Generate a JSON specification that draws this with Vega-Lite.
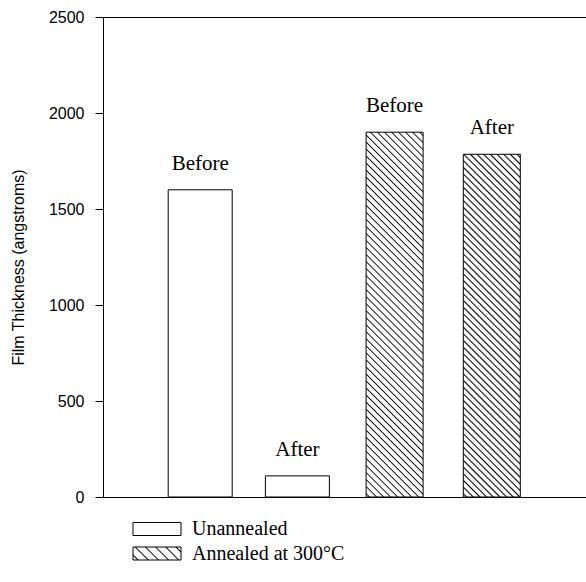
{
  "$schema": "https://vega.github.io/schema/vega-lite/v6.json",
  "width": 486,
  "height": 480,
  "autosize": {"type": "none"},
  "padding": {"left": 103, "top": 17, "right": 0, "bottom": 85},
  "background": "white",
  "config": {"view": {"stroke": null}},
  "data": {
    "values": [
      {"bar": "U-Before", "treatment": "Unannealed", "stage": "Before", "thickness": 1600},
      {"bar": "U-After", "treatment": "Unannealed", "stage": "After", "thickness": 110},
      {"bar": "A-Before", "treatment": "Annealed at 300°C", "stage": "Before", "thickness": 1900},
      {"bar": "A-After", "treatment": "Annealed at 300°C", "stage": "After", "thickness": 1785}
    ]
  },
  "encoding": {
    "y": {
      "field": "thickness",
      "type": "quantitative",
      "scale": {"domain": [0, 2500], "nice": false},
      "axis": {
        "title": "Film Thickness (angstroms)",
        "values": [0, 500, 1000, 1500, 2000, 2500],
        "format": "d",
        "grid": false,
        "tickSize": 8,
        "tickColor": "black",
        "domainColor": "black",
        "labelFont": "Liberation Sans",
        "labelFontSize": 16,
        "labelColor": "black",
        "labelPadding": 11,
        "titleFont": "Liberation Sans",
        "titleFontSize": 16,
        "titleFontWeight": "normal",
        "titleColor": "black",
        "titleX": -85,
        "titleY": 250,
        "titleAngle": -90,
        "titleBaseline": "middle",
        "titleAlign": "center"
      }
    }
  },
  "layer": [
    {
      "transform": [{"filter": "datum.treatment === 'Unannealed'"}],
      "mark": {"type": "bar", "width": 64, "fill": "white", "stroke": "black", "strokeWidth": 1},
      "encoding": {
        "x": {
          "field": "bar", "type": "nominal",
          "sort": ["U-Before", "U-After", "A-Before", "A-After"],
          "scale": {"paddingOuter": 0.5, "paddingInner": 0},
          "axis": {"orient": "bottom", "title": null, "labels": false, "ticks": false, "domainColor": "black"}
        },
        "stroke": {
          "datum": "Unannealed",
          "type": "nominal",
          "scale": {"range": ["black"]},
          "legend": {
            "orient": "none",
            "legendX": 44,
            "legendY": 502,
            "padding": 0,
            "title": null,
            "symbolType": "M-4,-1.0833H4V1.0833H-4Z",
            "symbolSize": 144,
            "symbolStrokeWidth": 1,
            "labelFont": "Liberation Serif",
            "labelFontSize": 20,
            "labelColor": "black",
            "labelOffset": 25
          }
        }
      }
    },
    {
      "transform": [{"filter": "datum.bar === 'A-Before'"}],
      "mark": {
        "type": "bar", "width": 57, "stroke": "black", "strokeWidth": 1,
        "fill": {
          "gradient": "linear", "x1": 0, "y1": 1, "x2": 0.17636, "y2": -0.12872,
          "stops": [
            {"offset": 0.00533, "color": "#ffffff"}, {"offset": 0.00833, "color": "#000000"}, {"offset": 0.01133, "color": "#ffffff"}, {"offset": 0.022, "color": "#ffffff"}, {"offset": 0.025, "color": "#000000"}, {"offset": 0.028, "color": "#ffffff"}, {"offset": 0.03867, "color": "#ffffff"}, {"offset": 0.04167, "color": "#000000"}, {"offset": 0.04467, "color": "#ffffff"},
            {"offset": 0.05533, "color": "#ffffff"}, {"offset": 0.05833, "color": "#000000"}, {"offset": 0.06133, "color": "#ffffff"}, {"offset": 0.072, "color": "#ffffff"}, {"offset": 0.075, "color": "#000000"}, {"offset": 0.078, "color": "#ffffff"}, {"offset": 0.08867, "color": "#ffffff"}, {"offset": 0.09167, "color": "#000000"}, {"offset": 0.09467, "color": "#ffffff"},
            {"offset": 0.10533, "color": "#ffffff"}, {"offset": 0.10833, "color": "#000000"}, {"offset": 0.11133, "color": "#ffffff"}, {"offset": 0.122, "color": "#ffffff"}, {"offset": 0.125, "color": "#000000"}, {"offset": 0.128, "color": "#ffffff"}, {"offset": 0.13867, "color": "#ffffff"}, {"offset": 0.14167, "color": "#000000"}, {"offset": 0.14467, "color": "#ffffff"},
            {"offset": 0.15533, "color": "#ffffff"}, {"offset": 0.15833, "color": "#000000"}, {"offset": 0.16133, "color": "#ffffff"}, {"offset": 0.172, "color": "#ffffff"}, {"offset": 0.175, "color": "#000000"}, {"offset": 0.178, "color": "#ffffff"}, {"offset": 0.18867, "color": "#ffffff"}, {"offset": 0.19167, "color": "#000000"}, {"offset": 0.19467, "color": "#ffffff"},
            {"offset": 0.20533, "color": "#ffffff"}, {"offset": 0.20833, "color": "#000000"}, {"offset": 0.21133, "color": "#ffffff"}, {"offset": 0.222, "color": "#ffffff"}, {"offset": 0.225, "color": "#000000"}, {"offset": 0.228, "color": "#ffffff"}, {"offset": 0.23867, "color": "#ffffff"}, {"offset": 0.24167, "color": "#000000"}, {"offset": 0.24467, "color": "#ffffff"},
            {"offset": 0.25533, "color": "#ffffff"}, {"offset": 0.25833, "color": "#000000"}, {"offset": 0.26133, "color": "#ffffff"}, {"offset": 0.272, "color": "#ffffff"}, {"offset": 0.275, "color": "#000000"}, {"offset": 0.278, "color": "#ffffff"}, {"offset": 0.28867, "color": "#ffffff"}, {"offset": 0.29167, "color": "#000000"}, {"offset": 0.29467, "color": "#ffffff"},
            {"offset": 0.30533, "color": "#ffffff"}, {"offset": 0.30833, "color": "#000000"}, {"offset": 0.31133, "color": "#ffffff"}, {"offset": 0.322, "color": "#ffffff"}, {"offset": 0.325, "color": "#000000"}, {"offset": 0.328, "color": "#ffffff"}, {"offset": 0.33867, "color": "#ffffff"}, {"offset": 0.34167, "color": "#000000"}, {"offset": 0.34467, "color": "#ffffff"},
            {"offset": 0.35533, "color": "#ffffff"}, {"offset": 0.35833, "color": "#000000"}, {"offset": 0.36133, "color": "#ffffff"}, {"offset": 0.372, "color": "#ffffff"}, {"offset": 0.375, "color": "#000000"}, {"offset": 0.378, "color": "#ffffff"}, {"offset": 0.38867, "color": "#ffffff"}, {"offset": 0.39167, "color": "#000000"}, {"offset": 0.39467, "color": "#ffffff"},
            {"offset": 0.40533, "color": "#ffffff"}, {"offset": 0.40833, "color": "#000000"}, {"offset": 0.41133, "color": "#ffffff"}, {"offset": 0.422, "color": "#ffffff"}, {"offset": 0.425, "color": "#000000"}, {"offset": 0.428, "color": "#ffffff"}, {"offset": 0.43867, "color": "#ffffff"}, {"offset": 0.44167, "color": "#000000"}, {"offset": 0.44467, "color": "#ffffff"},
            {"offset": 0.45533, "color": "#ffffff"}, {"offset": 0.45833, "color": "#000000"}, {"offset": 0.46133, "color": "#ffffff"}, {"offset": 0.472, "color": "#ffffff"}, {"offset": 0.475, "color": "#000000"}, {"offset": 0.478, "color": "#ffffff"}, {"offset": 0.48867, "color": "#ffffff"}, {"offset": 0.49167, "color": "#000000"}, {"offset": 0.49467, "color": "#ffffff"},
            {"offset": 0.50533, "color": "#ffffff"}, {"offset": 0.50833, "color": "#000000"}, {"offset": 0.51133, "color": "#ffffff"}, {"offset": 0.522, "color": "#ffffff"}, {"offset": 0.525, "color": "#000000"}, {"offset": 0.528, "color": "#ffffff"}, {"offset": 0.53867, "color": "#ffffff"}, {"offset": 0.54167, "color": "#000000"}, {"offset": 0.54467, "color": "#ffffff"},
            {"offset": 0.55533, "color": "#ffffff"}, {"offset": 0.55833, "color": "#000000"}, {"offset": 0.56133, "color": "#ffffff"}, {"offset": 0.572, "color": "#ffffff"}, {"offset": 0.575, "color": "#000000"}, {"offset": 0.578, "color": "#ffffff"}, {"offset": 0.58867, "color": "#ffffff"}, {"offset": 0.59167, "color": "#000000"}, {"offset": 0.59467, "color": "#ffffff"},
            {"offset": 0.60533, "color": "#ffffff"}, {"offset": 0.60833, "color": "#000000"}, {"offset": 0.61133, "color": "#ffffff"}, {"offset": 0.622, "color": "#ffffff"}, {"offset": 0.625, "color": "#000000"}, {"offset": 0.628, "color": "#ffffff"}, {"offset": 0.63867, "color": "#ffffff"}, {"offset": 0.64167, "color": "#000000"}, {"offset": 0.64467, "color": "#ffffff"},
            {"offset": 0.65533, "color": "#ffffff"}, {"offset": 0.65833, "color": "#000000"}, {"offset": 0.66133, "color": "#ffffff"}, {"offset": 0.672, "color": "#ffffff"}, {"offset": 0.675, "color": "#000000"}, {"offset": 0.678, "color": "#ffffff"}, {"offset": 0.68867, "color": "#ffffff"}, {"offset": 0.69167, "color": "#000000"}, {"offset": 0.69467, "color": "#ffffff"},
            {"offset": 0.70533, "color": "#ffffff"}, {"offset": 0.70833, "color": "#000000"}, {"offset": 0.71133, "color": "#ffffff"}, {"offset": 0.722, "color": "#ffffff"}, {"offset": 0.725, "color": "#000000"}, {"offset": 0.728, "color": "#ffffff"}, {"offset": 0.73867, "color": "#ffffff"}, {"offset": 0.74167, "color": "#000000"}, {"offset": 0.74467, "color": "#ffffff"},
            {"offset": 0.75533, "color": "#ffffff"}, {"offset": 0.75833, "color": "#000000"}, {"offset": 0.76133, "color": "#ffffff"}, {"offset": 0.772, "color": "#ffffff"}, {"offset": 0.775, "color": "#000000"}, {"offset": 0.778, "color": "#ffffff"}, {"offset": 0.78867, "color": "#ffffff"}, {"offset": 0.79167, "color": "#000000"}, {"offset": 0.79467, "color": "#ffffff"},
            {"offset": 0.80533, "color": "#ffffff"}, {"offset": 0.80833, "color": "#000000"}, {"offset": 0.81133, "color": "#ffffff"}, {"offset": 0.822, "color": "#ffffff"}, {"offset": 0.825, "color": "#000000"}, {"offset": 0.828, "color": "#ffffff"}, {"offset": 0.83867, "color": "#ffffff"}, {"offset": 0.84167, "color": "#000000"}, {"offset": 0.84467, "color": "#ffffff"},
            {"offset": 0.85533, "color": "#ffffff"}, {"offset": 0.85833, "color": "#000000"}, {"offset": 0.86133, "color": "#ffffff"}, {"offset": 0.872, "color": "#ffffff"}, {"offset": 0.875, "color": "#000000"}, {"offset": 0.878, "color": "#ffffff"}, {"offset": 0.88867, "color": "#ffffff"}, {"offset": 0.89167, "color": "#000000"}, {"offset": 0.89467, "color": "#ffffff"},
            {"offset": 0.90533, "color": "#ffffff"}, {"offset": 0.90833, "color": "#000000"}, {"offset": 0.91133, "color": "#ffffff"}, {"offset": 0.922, "color": "#ffffff"}, {"offset": 0.925, "color": "#000000"}, {"offset": 0.928, "color": "#ffffff"}, {"offset": 0.93867, "color": "#ffffff"}, {"offset": 0.94167, "color": "#000000"}, {"offset": 0.94467, "color": "#ffffff"},
            {"offset": 0.95533, "color": "#ffffff"}, {"offset": 0.95833, "color": "#000000"}, {"offset": 0.96133, "color": "#ffffff"}, {"offset": 0.972, "color": "#ffffff"}, {"offset": 0.975, "color": "#000000"}, {"offset": 0.978, "color": "#ffffff"}, {"offset": 0.98867, "color": "#ffffff"}, {"offset": 0.99167, "color": "#000000"}, {"offset": 0.99467, "color": "#ffffff"}
          ]
        }
      },
      "encoding": {
        "x": {
          "field": "bar", "type": "nominal",
          "sort": ["U-Before", "U-After", "A-Before", "A-After"],
          "scale": {"paddingOuter": 0.5, "paddingInner": 0},
          "axis": null
        }
      }
    },
    {
      "transform": [{"filter": "datum.bar === 'A-After'"}],
      "mark": {
        "type": "bar", "width": 57, "stroke": "black", "strokeWidth": 1,
        "fill": {
          "gradient": "linear", "x1": 0, "y1": 1, "x2": 0.18877, "y2": -0.13493,
          "stops": [
            {"offset": 0.00458, "color": "#ffffff"}, {"offset": 0.00833, "color": "#000000"}, {"offset": 0.01208, "color": "#ffffff"}, {"offset": 0.02125, "color": "#ffffff"}, {"offset": 0.025, "color": "#000000"}, {"offset": 0.02875, "color": "#ffffff"}, {"offset": 0.03792, "color": "#ffffff"}, {"offset": 0.04167, "color": "#000000"}, {"offset": 0.04542, "color": "#ffffff"},
            {"offset": 0.05458, "color": "#ffffff"}, {"offset": 0.05833, "color": "#000000"}, {"offset": 0.06208, "color": "#ffffff"}, {"offset": 0.07125, "color": "#ffffff"}, {"offset": 0.075, "color": "#000000"}, {"offset": 0.07875, "color": "#ffffff"}, {"offset": 0.08792, "color": "#ffffff"}, {"offset": 0.09167, "color": "#000000"}, {"offset": 0.09542, "color": "#ffffff"},
            {"offset": 0.10458, "color": "#ffffff"}, {"offset": 0.10833, "color": "#000000"}, {"offset": 0.11208, "color": "#ffffff"}, {"offset": 0.12125, "color": "#ffffff"}, {"offset": 0.125, "color": "#000000"}, {"offset": 0.12875, "color": "#ffffff"}, {"offset": 0.13792, "color": "#ffffff"}, {"offset": 0.14167, "color": "#000000"}, {"offset": 0.14542, "color": "#ffffff"},
            {"offset": 0.15458, "color": "#ffffff"}, {"offset": 0.15833, "color": "#000000"}, {"offset": 0.16208, "color": "#ffffff"}, {"offset": 0.17125, "color": "#ffffff"}, {"offset": 0.175, "color": "#000000"}, {"offset": 0.17875, "color": "#ffffff"}, {"offset": 0.18792, "color": "#ffffff"}, {"offset": 0.19167, "color": "#000000"}, {"offset": 0.19542, "color": "#ffffff"},
            {"offset": 0.20458, "color": "#ffffff"}, {"offset": 0.20833, "color": "#000000"}, {"offset": 0.21208, "color": "#ffffff"}, {"offset": 0.22125, "color": "#ffffff"}, {"offset": 0.225, "color": "#000000"}, {"offset": 0.22875, "color": "#ffffff"}, {"offset": 0.23792, "color": "#ffffff"}, {"offset": 0.24167, "color": "#000000"}, {"offset": 0.24542, "color": "#ffffff"},
            {"offset": 0.25458, "color": "#ffffff"}, {"offset": 0.25833, "color": "#000000"}, {"offset": 0.26208, "color": "#ffffff"}, {"offset": 0.27125, "color": "#ffffff"}, {"offset": 0.275, "color": "#000000"}, {"offset": 0.27875, "color": "#ffffff"}, {"offset": 0.28792, "color": "#ffffff"}, {"offset": 0.29167, "color": "#000000"}, {"offset": 0.29542, "color": "#ffffff"},
            {"offset": 0.30458, "color": "#ffffff"}, {"offset": 0.30833, "color": "#000000"}, {"offset": 0.31208, "color": "#ffffff"}, {"offset": 0.32125, "color": "#ffffff"}, {"offset": 0.325, "color": "#000000"}, {"offset": 0.32875, "color": "#ffffff"}, {"offset": 0.33792, "color": "#ffffff"}, {"offset": 0.34167, "color": "#000000"}, {"offset": 0.34542, "color": "#ffffff"},
            {"offset": 0.35458, "color": "#ffffff"}, {"offset": 0.35833, "color": "#000000"}, {"offset": 0.36208, "color": "#ffffff"}, {"offset": 0.37125, "color": "#ffffff"}, {"offset": 0.375, "color": "#000000"}, {"offset": 0.37875, "color": "#ffffff"}, {"offset": 0.38792, "color": "#ffffff"}, {"offset": 0.39167, "color": "#000000"}, {"offset": 0.39542, "color": "#ffffff"},
            {"offset": 0.40458, "color": "#ffffff"}, {"offset": 0.40833, "color": "#000000"}, {"offset": 0.41208, "color": "#ffffff"}, {"offset": 0.42125, "color": "#ffffff"}, {"offset": 0.425, "color": "#000000"}, {"offset": 0.42875, "color": "#ffffff"}, {"offset": 0.43792, "color": "#ffffff"}, {"offset": 0.44167, "color": "#000000"}, {"offset": 0.44542, "color": "#ffffff"},
            {"offset": 0.45458, "color": "#ffffff"}, {"offset": 0.45833, "color": "#000000"}, {"offset": 0.46208, "color": "#ffffff"}, {"offset": 0.47125, "color": "#ffffff"}, {"offset": 0.475, "color": "#000000"}, {"offset": 0.47875, "color": "#ffffff"}, {"offset": 0.48792, "color": "#ffffff"}, {"offset": 0.49167, "color": "#000000"}, {"offset": 0.49542, "color": "#ffffff"},
            {"offset": 0.50458, "color": "#ffffff"}, {"offset": 0.50833, "color": "#000000"}, {"offset": 0.51208, "color": "#ffffff"}, {"offset": 0.52125, "color": "#ffffff"}, {"offset": 0.525, "color": "#000000"}, {"offset": 0.52875, "color": "#ffffff"}, {"offset": 0.53792, "color": "#ffffff"}, {"offset": 0.54167, "color": "#000000"}, {"offset": 0.54542, "color": "#ffffff"},
            {"offset": 0.55458, "color": "#ffffff"}, {"offset": 0.55833, "color": "#000000"}, {"offset": 0.56208, "color": "#ffffff"}, {"offset": 0.57125, "color": "#ffffff"}, {"offset": 0.575, "color": "#000000"}, {"offset": 0.57875, "color": "#ffffff"}, {"offset": 0.58792, "color": "#ffffff"}, {"offset": 0.59167, "color": "#000000"}, {"offset": 0.59542, "color": "#ffffff"},
            {"offset": 0.60458, "color": "#ffffff"}, {"offset": 0.60833, "color": "#000000"}, {"offset": 0.61208, "color": "#ffffff"}, {"offset": 0.62125, "color": "#ffffff"}, {"offset": 0.625, "color": "#000000"}, {"offset": 0.62875, "color": "#ffffff"}, {"offset": 0.63792, "color": "#ffffff"}, {"offset": 0.64167, "color": "#000000"}, {"offset": 0.64542, "color": "#ffffff"},
            {"offset": 0.65458, "color": "#ffffff"}, {"offset": 0.65833, "color": "#000000"}, {"offset": 0.66208, "color": "#ffffff"}, {"offset": 0.67125, "color": "#ffffff"}, {"offset": 0.675, "color": "#000000"}, {"offset": 0.67875, "color": "#ffffff"}, {"offset": 0.68792, "color": "#ffffff"}, {"offset": 0.69167, "color": "#000000"}, {"offset": 0.69542, "color": "#ffffff"},
            {"offset": 0.70458, "color": "#ffffff"}, {"offset": 0.70833, "color": "#000000"}, {"offset": 0.71208, "color": "#ffffff"}, {"offset": 0.72125, "color": "#ffffff"}, {"offset": 0.725, "color": "#000000"}, {"offset": 0.72875, "color": "#ffffff"}, {"offset": 0.73792, "color": "#ffffff"}, {"offset": 0.74167, "color": "#000000"}, {"offset": 0.74542, "color": "#ffffff"},
            {"offset": 0.75458, "color": "#ffffff"}, {"offset": 0.75833, "color": "#000000"}, {"offset": 0.76208, "color": "#ffffff"}, {"offset": 0.77125, "color": "#ffffff"}, {"offset": 0.775, "color": "#000000"}, {"offset": 0.77875, "color": "#ffffff"}, {"offset": 0.78792, "color": "#ffffff"}, {"offset": 0.79167, "color": "#000000"}, {"offset": 0.79542, "color": "#ffffff"},
            {"offset": 0.80458, "color": "#ffffff"}, {"offset": 0.80833, "color": "#000000"}, {"offset": 0.81208, "color": "#ffffff"}, {"offset": 0.82125, "color": "#ffffff"}, {"offset": 0.825, "color": "#000000"}, {"offset": 0.82875, "color": "#ffffff"}, {"offset": 0.83792, "color": "#ffffff"}, {"offset": 0.84167, "color": "#000000"}, {"offset": 0.84542, "color": "#ffffff"},
            {"offset": 0.85458, "color": "#ffffff"}, {"offset": 0.85833, "color": "#000000"}, {"offset": 0.86208, "color": "#ffffff"}, {"offset": 0.87125, "color": "#ffffff"}, {"offset": 0.875, "color": "#000000"}, {"offset": 0.87875, "color": "#ffffff"}, {"offset": 0.88792, "color": "#ffffff"}, {"offset": 0.89167, "color": "#000000"}, {"offset": 0.89542, "color": "#ffffff"},
            {"offset": 0.90458, "color": "#ffffff"}, {"offset": 0.90833, "color": "#000000"}, {"offset": 0.91208, "color": "#ffffff"}, {"offset": 0.92125, "color": "#ffffff"}, {"offset": 0.925, "color": "#000000"}, {"offset": 0.92875, "color": "#ffffff"}, {"offset": 0.93792, "color": "#ffffff"}, {"offset": 0.94167, "color": "#000000"}, {"offset": 0.94542, "color": "#ffffff"},
            {"offset": 0.95458, "color": "#ffffff"}, {"offset": 0.95833, "color": "#000000"}, {"offset": 0.96208, "color": "#ffffff"}, {"offset": 0.97125, "color": "#ffffff"}, {"offset": 0.975, "color": "#000000"}, {"offset": 0.97875, "color": "#ffffff"}, {"offset": 0.98792, "color": "#ffffff"}, {"offset": 0.99167, "color": "#000000"}, {"offset": 0.99542, "color": "#ffffff"}
          ]
        }
      },
      "encoding": {
        "x": {
          "field": "bar", "type": "nominal",
          "sort": ["U-Before", "U-After", "A-Before", "A-After"],
          "scale": {"paddingOuter": 0.5, "paddingInner": 0},
          "axis": null
        }
      }
    },
    {
      "transform": [{"filter": "false"}],
      "mark": {
        "type": "bar", "width": 57, "stroke": "black", "strokeWidth": 1,
        "fill": {
          "gradient": "linear", "x1": 0, "y1": 1, "x2": 1.18397, "y2": 0.67934,
          "stops": [
            {"offset": 0.06133, "color": "#ffffff"}, {"offset": 0.08333, "color": "#000000"}, {"offset": 0.10533, "color": "#ffffff"},
            {"offset": 0.228, "color": "#ffffff"}, {"offset": 0.25, "color": "#000000"}, {"offset": 0.272, "color": "#ffffff"},
            {"offset": 0.39467, "color": "#ffffff"}, {"offset": 0.41667, "color": "#000000"}, {"offset": 0.43867, "color": "#ffffff"},
            {"offset": 0.56133, "color": "#ffffff"}, {"offset": 0.58333, "color": "#000000"}, {"offset": 0.60533, "color": "#ffffff"},
            {"offset": 0.728, "color": "#ffffff"}, {"offset": 0.75, "color": "#000000"}, {"offset": 0.772, "color": "#ffffff"},
            {"offset": 0.89467, "color": "#ffffff"}, {"offset": 0.91667, "color": "#000000"}, {"offset": 0.93867, "color": "#ffffff"}
          ]
        }
      },
      "encoding": {
        "x": {
          "field": "bar", "type": "nominal",
          "sort": ["U-Before", "U-After", "A-Before", "A-After"],
          "scale": {"paddingOuter": 0.5, "paddingInner": 0},
          "axis": null
        },
        "strokeDash": {
          "datum": "Annealed at 300°C",
          "type": "nominal",
          "scale": {"range": [[1, 0]]},
          "legend": {
            "orient": "none",
            "legendX": 44,
            "legendY": 526.5,
            "padding": 0,
            "title": null,
            "symbolType": "M-4,-1.0833H4V1.0833H-4Z",
            "symbolSize": 144,
            "symbolStrokeWidth": 1,
            "labelFont": "Liberation Serif",
            "labelFontSize": 20,
            "labelColor": "black",
            "labelOffset": 25
          }
        }
      }
    },
    {
      "mark": {"type": "text", "dy": -20, "baseline": "alphabetic", "align": "center", "font": "Liberation Serif", "fontSize": 21, "fill": "black"},
      "encoding": {
        "x": {
          "field": "bar", "type": "nominal",
          "sort": ["U-Before", "U-After", "A-Before", "A-After"],
          "scale": {"paddingOuter": 0.5, "paddingInner": 0},
          "axis": {"orient": "top", "title": null, "labels": false, "ticks": false, "domainColor": "black"}
        },
        "text": {"field": "stage"}
      }
    }
  ],
  "resolve": {"axis": {"x": "independent"}}
}
